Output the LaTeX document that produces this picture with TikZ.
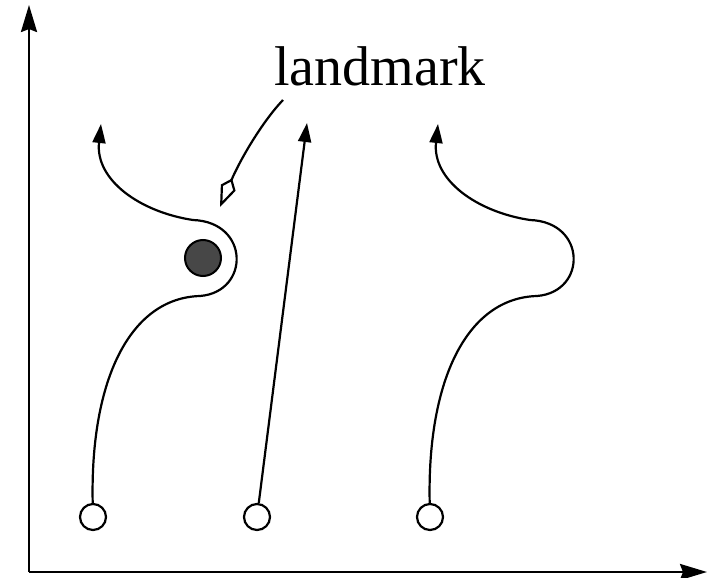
\documentclass[tikz,border=0pt]{standalone}
\usepackage{fontspec}
\setmainfont{Liberation Serif}
\usetikzlibrary{arrows.meta}
\begin{document}
\begin{tikzpicture}[x=1pt,y=-1pt,
  axisline/.style={line width=2.6pt,-{Stealth[length=27pt,width=16pt,inset=3pt]}},
  route/.style={line width=2.2pt,-{Triangle[length=19pt,width=13pt]}},
  startpt/.style={circle,draw,line width=2.2pt,fill=white,minimum size=26pt,inner sep=0pt},
  landmarkdot/.style={circle,draw,line width=2pt,fill=black!72,minimum size=36pt,inner sep=0pt},
  pointer/.style={line width=2.2pt,-{Kite[open,length=31pt,width=16pt,inset=10pt]}},
  labeltext/.style={inner sep=0pt,font=\fontsize{56}{60}\selectfont}
]
\useasboundingbox (0,0) rectangle (712,578);
% axes
\coordinate (o) at (29,572);
\coordinate (ytop) at (29,5);
\coordinate (xend) at (707,572);
\draw[axisline] (o) -- (ytop);
\draw[axisline] (o) -- (xend);
% nodes
\node[startpt] (s1) at (93,517) {};
\node[startpt] (s2) at (257,517) {};
\node[startpt] (s3) at (430,517) {};
\node[landmarkdot] (lm) at (203,258) {};
\node[labeltext,anchor=base] (lbl) at (380,85) {landmark};
% end points
\coordinate (e1) at (101,124);
\coordinate (e2) at (307,123);
\coordinate (e3) at (438,124);
\coordinate (pstart) at (283,100);
\coordinate (ptip) at (220,207);
% left path around landmark
\draw[route] (s1) .. controls (90,380) and (130,298) .. (200,296)
  .. controls (250,292) and (250,222) .. (193,220)
  .. controls (140,212) and (95,180) .. (e1);
% middle straight path
\draw[route] (s2) -- (e2);
% right path
\draw[route] (s3) .. controls (427,380) and (467,298) .. (537,296)
  .. controls (587,292) and (587,222) .. (530,220)
  .. controls (477,212) and (432,180) .. (e3);
% pointer
\draw[pointer] (pstart) .. controls (262,122) and (240,160) .. (ptip);
\end{tikzpicture}
\end{document}
